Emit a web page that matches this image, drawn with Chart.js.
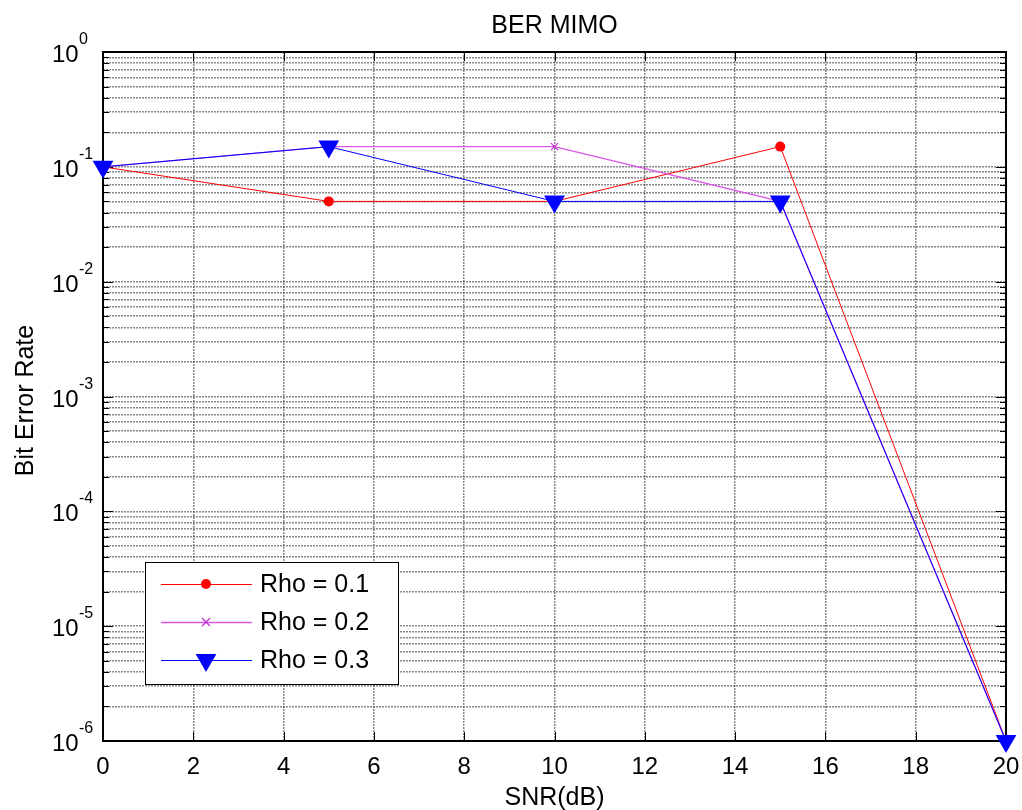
<!DOCTYPE html>
<html>
<head>
<meta charset="utf-8">
<title>BER MIMO</title>
<script src="https://cdn.jsdelivr.net/npm/chart.js@4.4.1/dist/chart.umd.min.js"></script>
<style>
  html, body { margin: 0; padding: 0; background: #fff; }
  #wrap { width: 1022px; height: 810px; }
</style>
</head>
<body>
<div id="wrap"><canvas id="ber" width="1022" height="810"></canvas></div>
<script>
// SNR points (dB) and measured bit error rates per correlation factor
const snr = [0, 5, 10, 15, 20];
const berRho1 = [0.1, 0.05, 0.05, 0.15, 1e-6];
const berRho2 = [0.1, 0.15, 0.15, 0.05, 1e-6];
const berRho3 = [0.1, 0.15, 0.05, 0.05, 1e-6];
const seriesNames = ['Rho = 0.1', 'Rho = 0.2', 'Rho = 0.3'];

const xTickValues = [0, 2, 4, 6, 8, 10, 12, 14, 16, 18, 20];
const yExponents = [0, -1, -2, -3, -4, -5, -6];

const FONT = '"Liberation Sans", Arial, Helvetica, sans-serif';
const RED = '#ff0000';
const MAGENTA = '#dd55e6';
const BLUE = '#0000ff';

const toPoints = ys => snr.map((x, i) => ({ x: x, y: ys[i] }));

// little marker painter, shared by the legend
function drawMarker(ctx, kind, x, y) {
  ctx.save();
  if (kind === 'circle') {
    ctx.fillStyle = RED;
    ctx.beginPath();
    ctx.arc(x, y, 5, 0, Math.PI * 2);
    ctx.fill();
  } else if (kind === 'cross') {
    ctx.strokeStyle = '#c030d0';
    ctx.lineWidth = 1.2;
    ctx.beginPath();
    ctx.moveTo(x - 4, y - 4); ctx.lineTo(x + 4, y + 4);
    ctx.moveTo(x + 4, y - 4); ctx.lineTo(x - 4, y + 4);
    ctx.stroke();
  } else {
    const r = 12;
    ctx.fillStyle = BLUE;
    ctx.beginPath();
    ctx.moveTo(x, y + r);
    ctx.lineTo(x - r * Math.sin(Math.PI / 3), y - r / 2);
    ctx.lineTo(x + r * Math.sin(Math.PI / 3), y - r / 2);
    ctx.closePath();
    ctx.fill();
  }
  ctx.restore();
}

// box, tick marks, labels and legend in the usual semilogy look
const axesDecor = {
  id: 'axesDecor',
  beforeDatasetsDraw(chart) {
    const { ctx, chartArea: a, scales } = chart;
    const xs = scales.x, ys = scales.y;
    ctx.save();
    ctx.strokeStyle = '#000';
    ctx.lineWidth = 1;
    ctx.beginPath();
    // x ticks top and bottom
    xTickValues.forEach(v => {
      const px = Math.round(xs.getPixelForValue(v)) + 0.5;
      ctx.moveTo(px, a.bottom); ctx.lineTo(px, a.bottom - 9);
      ctx.moveTo(px, a.top); ctx.lineTo(px, a.top + 9);
    });
    // y ticks, major and minor, left and right
    yExponents.forEach(e => {
      for (let m = 1; m <= 9; m++) {
        const v = m * Math.pow(10, e);
        if (v > 1) break;
        const py = Math.round(ys.getPixelForValue(v)) + 0.5;
        const len = m === 1 ? 10 : 6;
        ctx.moveTo(a.left, py); ctx.lineTo(a.left + len, py);
        ctx.moveTo(a.right, py); ctx.lineTo(a.right - len, py);
      }
    });
    ctx.stroke();
    ctx.lineWidth = 2;
    ctx.strokeRect(a.left, a.top, a.right - a.left, a.bottom - a.top);
    ctx.restore();
  },
  afterDraw(chart) {
    const { ctx, chartArea: a, scales } = chart;
    const xs = scales.x, ys = scales.y;
    ctx.save();
    ctx.fillStyle = '#000';

    // title
    ctx.font = '25px ' + FONT;
    ctx.textAlign = 'center';
    ctx.textBaseline = 'alphabetic';
    ctx.fillText('BER MIMO', (a.left + a.right) / 2, 33);

    // x tick labels
    ctx.font = '24px ' + FONT;
    xTickValues.forEach(v => {
      ctx.fillText(String(v), xs.getPixelForValue(v), a.bottom + 33);
    });

    // x axis title
    ctx.font = '25px ' + FONT;
    ctx.fillText('SNR(dB)', (a.left + a.right) / 2, 805);

    // y axis title
    ctx.save();
    ctx.translate(33, (a.top + a.bottom) / 2 + 4);
    ctx.rotate(-Math.PI / 2);
    ctx.fillText('Bit Error Rate', 0, 0);
    ctx.restore();

    // y tick labels as 10 with a raised exponent
    ctx.textAlign = 'left';
    yExponents.forEach(e => {
      const py = ys.getPixelForValue(Math.pow(10, e));
      ctx.font = '24px ' + FONT;
      ctx.fillText('10', 52, py + 10);
      ctx.font = '16px ' + FONT;
      ctx.fillText(String(e), 79, py - 8);
    });

    // legend
    const box = { x: 145, y: 562, w: 253, h: 122 };
    ctx.fillStyle = '#fff';
    ctx.fillRect(box.x, box.y, box.w, box.h);
    ctx.strokeStyle = '#000';
    ctx.lineWidth = 1;
    ctx.strokeRect(box.x + 0.5, box.y + 0.5, box.w, box.h);
    const colors = [RED, MAGENTA, BLUE];
    const markers = ['circle', 'cross', 'triangle'];
    ctx.font = '25px ' + FONT;
    ctx.textBaseline = 'middle';
    seriesNames.forEach((name, i) => {
      const ry = 584 + i * 38;
      ctx.strokeStyle = colors[i];
      ctx.lineWidth = i === 1 ? 1.4 : 1;
      ctx.beginPath();
      ctx.moveTo(161, ry + 0.5); ctx.lineTo(252, ry + 0.5);
      ctx.stroke();
      drawMarker(ctx, markers[i], 206, ry);
      ctx.fillStyle = '#000';
      ctx.fillText(name, 260, ry + 1);
    });
    ctx.restore();
  }
};

const gridStyle = {
  color: 'rgba(60,60,60,0.6)',
  lineWidth: 1.5,
  drawTicks: false
};

new Chart(document.getElementById('ber'), {
  type: 'line',
  data: {
    datasets: [
      {
        label: seriesNames[0],
        data: toPoints(berRho1),
        borderColor: RED,
        backgroundColor: RED,
        borderWidth: 1,
        pointStyle: 'circle',
        pointRadius: 5,
        pointBorderWidth: 0,
        clip: false,
        order: 2
      },
      {
        label: seriesNames[1],
        data: toPoints(berRho2),
        borderColor: MAGENTA,
        backgroundColor: MAGENTA,
        borderWidth: 1.4,
        pointStyle: 'crossRot',
        pointRadius: 5,
        pointBorderColor: '#c030d0',
        pointBorderWidth: 1.2,
        clip: false,
        order: 1
      },
      {
        label: seriesNames[2],
        data: toPoints(berRho3),
        borderColor: BLUE,
        backgroundColor: BLUE,
        borderWidth: 1,
        pointStyle: 'triangle',
        pointRotation: 180,
        pointRadius: 12,
        pointBorderWidth: 0,
        clip: false,
        order: 0
      }
    ]
  },
  options: {
    responsive: false,
    devicePixelRatio: 1,
    animation: false,
    events: [],
    layout: { padding: { left: 103, top: 52, right: 16, bottom: 69 } },
    plugins: {
      legend: { display: false },
      title: { display: false },
      tooltip: { enabled: false }
    },
    elements: { line: { tension: 0 } },
    scales: {
      x: {
        type: 'linear',
        min: 0,
        max: 20,
        ticks: { display: false, stepSize: 2 },
        grid: gridStyle,
        border: { display: false, dash: [2, 1] }
      },
      y: {
        type: 'logarithmic',
        min: 1e-6,
        max: 1,
        ticks: { display: false },
        grid: gridStyle,
        border: { display: false, dash: [2, 1] },
        afterBuildTicks: scale => {
          const t = [];
          yExponents.slice().reverse().forEach(e => {
            for (let m = 1; m <= 9; m++) {
              const v = m * Math.pow(10, e);
              if (v <= 1) t.push({ value: v });
            }
          });
          scale.ticks = t;
        }
      }
    }
  },
  plugins: [axesDecor]
});
</script>
</body>
</html>
